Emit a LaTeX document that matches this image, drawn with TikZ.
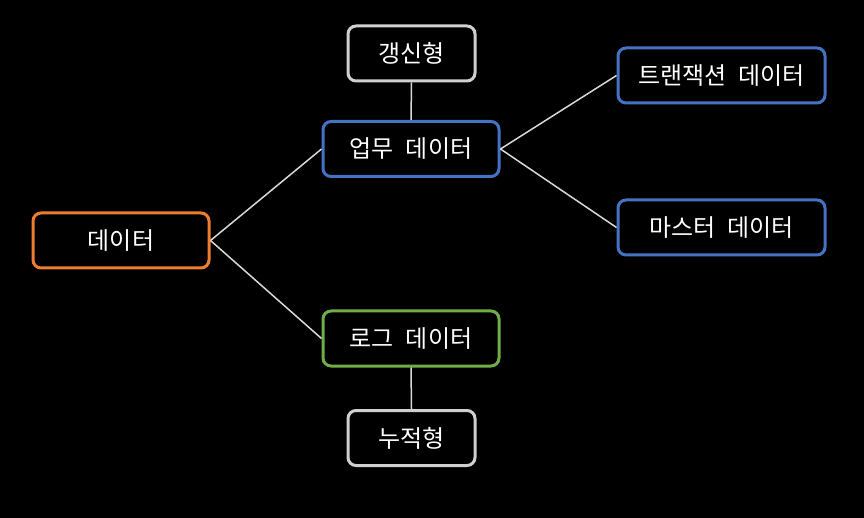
\documentclass[tikz,border=0pt]{standalone}
\usepackage{fontspec}
\newfontfamily\kr{Noto Sans CJK KR}
\definecolor{orangeb}{HTML}{ED7D31}
\definecolor{blueb}{HTML}{4472C4}
\definecolor{greenb}{HTML}{70AD47}
\definecolor{greyb}{HTML}{D0D0D0}
\definecolor{linec}{HTML}{D9D9D9}
\newcommand{\wsp}{\hspace{0.5em}}
\begin{document}
\begin{tikzpicture}[x=1pt,y=-1pt,
  box/.style={draw,line width=3pt,rounded corners=8pt,fill=black,text=white,
    font=\kr\fontsize{24}{28}\selectfont,inner sep=0pt,minimum height=55pt},
  conn/.style={draw=linec,line width=1.5pt}]
\fill[black] (0,0) rectangle (864,518);
\useasboundingbox (0,0) rectangle (864,518);
\node[box,draw=orangeb,minimum width=176pt] (data) at (121,240.5) {데이터};
\node[box,draw=greyb,minimum width=127pt] (renew) at (411.5,53.5) {갱신형};
\node[box,draw=blueb,minimum width=176pt] (biz) at (411,149) {업무\wsp 데이터};
\node[box,draw=blueb,minimum width=207pt] (trans) at (721.5,75.5) {트랜잭션\wsp 데이터};
\node[box,draw=blueb,minimum width=207pt] (master) at (721.5,227.5) {마스터\wsp 데이터};
\node[box,draw=greenb,minimum width=176pt] (log) at (411,338.5) {로그\wsp 데이터};
\node[box,draw=greyb,minimum width=127pt] (accum) at (411.5,438) {누적형};
\draw[conn] (data.east) -- (biz.west);
\draw[conn] (data.east) -- (log.west);
\draw[conn] (biz.east) -- (trans.west);
\draw[conn] (biz.east) -- (master.west);
\draw[conn] (renew.south) -- (biz.north);
\draw[conn] (log.south) -- (accum.north);
\end{tikzpicture}
\end{document}
